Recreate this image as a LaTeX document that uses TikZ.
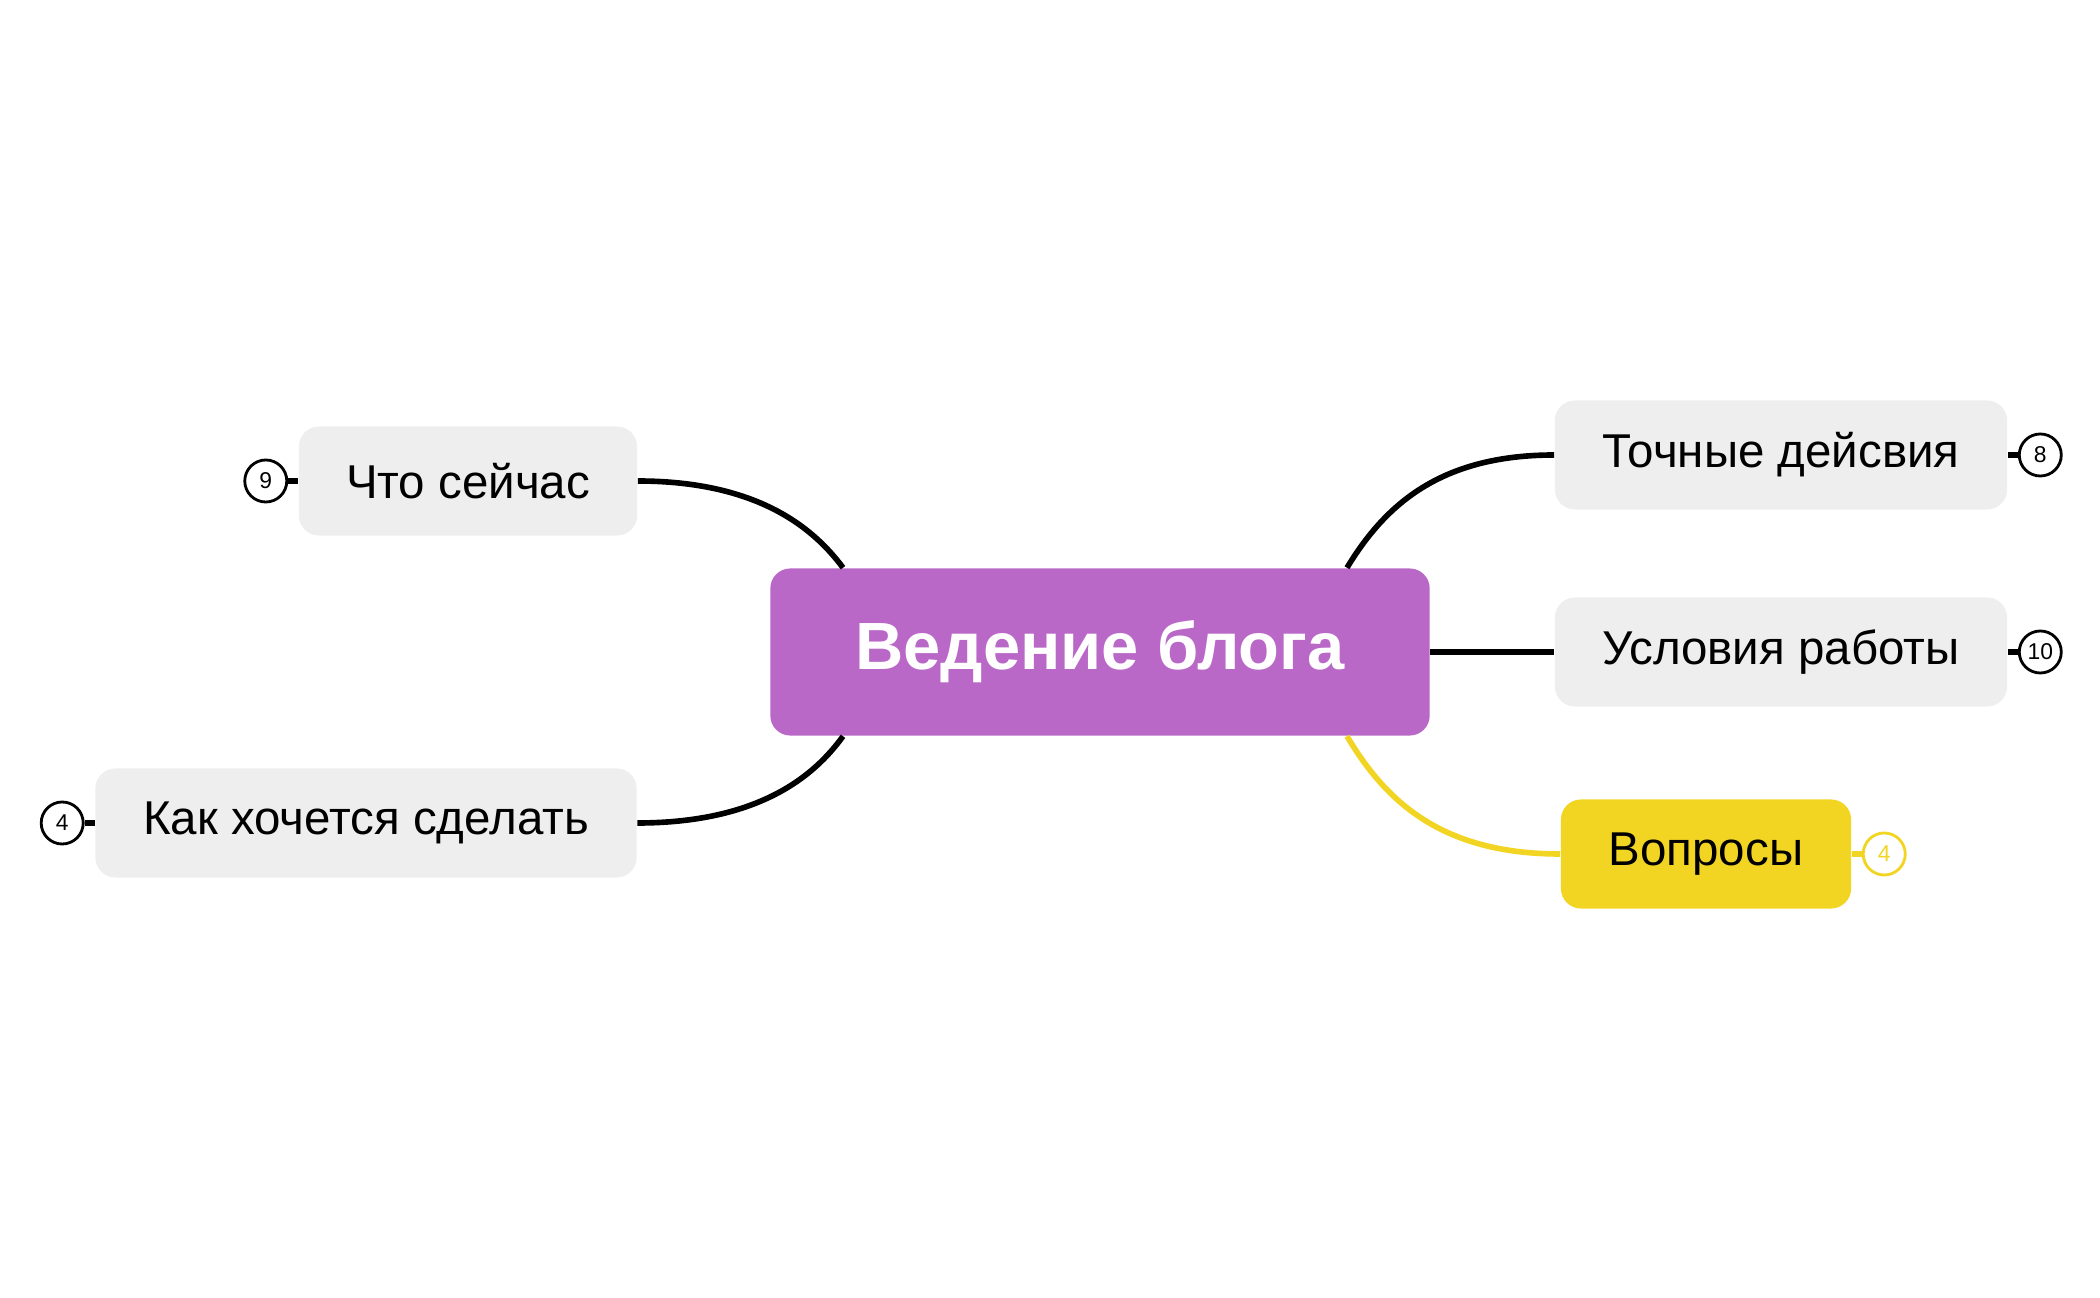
\documentclass[tikz,border=0pt]{standalone}
\usepackage{fontspec}
\setmainfont{Liberation Sans}
\usetikzlibrary{positioning}
\definecolor{topicgray}{HTML}{EEEEEE}
\definecolor{rootpurple}{HTML}{B968C7}
\definecolor{askyellow}{HTML}{F2D422}
\tikzset{
    topic/.style={
           rectangle,
           rounded corners=0.2cm,
           fill=topicgray,
           minimum height=1.09cm,
           inner sep=0pt,
           text centered,
           font=\fontsize{13.5}{16}\selectfont,
           },
    badge/.style={
           circle,
           draw=black, line width=0.8pt,
           minimum size=0.42cm,
           inner sep=0pt,
           font=\fontsize{6.5}{7}\selectfont,
           },
    branch/.style={line width=1.6pt},
}

\begin{document}
\begin{tikzpicture}[x=0.01cm,y=-0.01cm]
 \useasboundingbox (0,0) rectangle (2100,1298);

 \node[rectangle, rounded corners=0.2cm, fill=rootpurple,
  minimum width=6.59cm, minimum height=1.67cm,
  text=white, font=\fontsize{19}{22}\selectfont\bfseries] (root) at (1100,652) {Ведение блога};

 \node[topic, minimum width=3.38cm] (now) at (468,481) {Что сейчас};
 \node[topic, minimum width=5.41cm] (want) at (366,823) {Как хочется сделать};
 \node[topic, minimum width=4.52cm] (acts) at (1781,455) {Точные дейсвия};
 \node[topic, minimum width=4.52cm] (cond) at (1781,652) {Условия работы};
 \node[topic, fill=askyellow, minimum width=2.90cm] (ask) at (1706,854) {Вопросы};

 \node[badge, left=0.1cm of now] (nowN) {9};
 \node[badge, left=0.1cm of want] (wantN) {4};
 \node[badge, right=0.1cm of acts] (actsN) {8};
 \node[badge, right=0.1cm of cond] (condN) {10};
 \node[badge, draw=askyellow, text=askyellow, right=0.1cm of ask] (askN) {4};

 % branches
 \draw[branch] (now.east) .. controls (760,481) and (815,530) .. (root.north west -| 843,0);
 \draw[branch] (want.east) .. controls (760,823) and (815,775) .. (root.south west -| 843,0);
 \draw[branch] (acts.west) .. controls (1440,455) and (1385,505) .. (root.north east -| 1347,0);
 \draw[branch] (root.east) -- (cond.west);
 \draw[branch, askyellow] (ask.west) .. controls (1440,854) and (1385,800) .. (root.south east -| 1347,0);

 \draw[branch] (nowN) -- (now.west);
 \draw[branch] (wantN) -- (want.west);
 \draw[branch] (actsN) -- (acts.east);
 \draw[branch] (condN) -- (cond.east);
 \draw[branch, askyellow] (askN) -- (ask.east);
\end{tikzpicture}
\end{document}
